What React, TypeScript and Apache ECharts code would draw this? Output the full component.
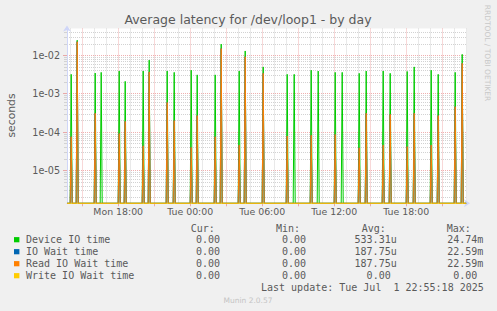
import React, { useEffect, useRef } from 'react';
import * as echarts from 'echarts';

// ---- data ----
const spikeTimes = [
  'Mon 14:05', 'Mon 14:35', 'Mon 16:05', 'Mon 16:35', 'Mon 18:05', 'Mon 18:35',
  'Mon 20:05', 'Mon 20:35', 'Mon 22:05', 'Mon 22:40', 'Tue 00:05', 'Tue 00:35',
  'Tue 02:05', 'Tue 02:35', 'Tue 04:05', 'Tue 04:35', 'Tue 06:05', 'Tue 08:05',
  'Tue 08:40', 'Tue 10:05', 'Tue 10:40', 'Tue 12:05', 'Tue 12:40', 'Tue 14:05',
  'Tue 14:40', 'Tue 16:05', 'Tue 16:40', 'Tue 18:05', 'Tue 18:40', 'Tue 20:05',
  'Tue 20:40', 'Tue 22:05', 'Tue 22:40',
];
const deviceIOTime = [
  3.2e-3, 2.474e-2, 3.45e-3, 3.6e-3, 3.9e-3, 2.1e-3,
  3.9e-3, 7.5e-3, 3.9e-3, 3.6e-3, 4.1e-3, 3.1e-3,
  3.1e-3, 1.96e-2, 3.9e-3, 1.3e-2, 5.0e-3, 3.2e-3,
  3.2e-3, 4.1e-3, 3.9e-3, 3.6e-3, 3.6e-3, 3.4e-3,
  3.9e-3, 3.9e-3, 3.4e-3, 3.8e-3, 5.0e-3, 4.1e-3,
  3.2e-3, 3.6e-3, 1.06e-2,
];
const ioWaitTime = [
  7.6e-5, 2.259e-2, 3.1e-4, 0, 9.2e-5, 1.9e-4,
  4.4e-5, 3.7e-3, 5.9e-4, 2.0e-4, 4.0e-5, 2.7e-4,
  7.6e-5, 1.5e-2, 4.6e-5, 9.2e-3, 3.4e-3, 7.9e-5,
  0, 8.3e-5, 0, 8.7e-5, 0, 3.9e-5,
  3.1e-4, 4.6e-5, 2.9e-4, 4.2e-5, 3.1e-4, 4.6e-5,
  2.7e-4, 4.6e-4, 6.2e-3,
];
const readIOWaitTime = [
  7.6e-5, 2.259e-2, 3.1e-4, 0, 9.2e-5, 1.9e-4,
  4.4e-5, 3.7e-3, 5.9e-4, 2.0e-4, 4.0e-5, 2.7e-4,
  7.6e-5, 1.5e-2, 4.6e-5, 9.2e-3, 3.4e-3, 7.9e-5,
  0, 8.3e-5, 0, 8.7e-5, 0, 3.9e-5,
  3.1e-4, 4.6e-5, 2.9e-4, 4.2e-5, 3.1e-4, 4.6e-5,
  2.7e-4, 4.6e-4, 6.2e-3,
];
const writeIOWaitTime = [
  0, 0, 0, 0, 0, 0, 0, 0, 0, 0, 0, 0, 0, 0, 0, 0, 0,
  0, 0, 0, 0, 0, 0, 0, 0, 0, 0, 0, 0, 0, 0, 0, 0,
];
const sampleStart = 'Mon 13:45';
const sampleEnd = 'Tue 23:00';
const sampleStepMin = 5;
const axisStart = 'Mon 13:44';
const axisEnd = 'Tue 23:04';
const yMinValue = 1.4e-6;
const yMaxValue = 0.05;

const xTickLabels = ['Mon 18:00', 'Tue 00:00', 'Tue 06:00', 'Tue 12:00', 'Tue 18:00'];
const yTickLabels = ['1e-05', '1e-04', '1e-03', '1e-02'];

const seriesNames = ['Device IO time', 'IO Wait time', 'Read IO Wait time', 'Write IO Wait time'];
const seriesColors = ['#00cc00', '#0066b3', '#ff8000', '#ffcc00'];
const curValues = ['0.00', '0.00', '0.00', '0.00'];
const minValues = ['0.00', '0.00', '0.00', '0.00'];
const avgValues = ['533.31u', '187.75u', '187.75u', '0.00'];
const maxValues = ['24.74m', '22.59m', '22.59m', '0.00'];

const titleText = 'Average latency for /dev/loop1 - by day';
const lastUpdate = 'Last update: Tue Jul \u00a01 22:55:18 2025';

// ---- helpers ----
const parseTime = (s: string) => {
  const [d, hm] = s.split(' ');
  const [h, m] = hm.split(':').map(Number);
  return (d === 'Tue' ? 1440 : 0) + h * 60 + m;
};
const pad = (n: number) => (n < 10 ? '0' + n : '' + n);
const fmtTime = (v: number) =>
  (v >= 1440 ? 'Tue' : 'Mon') + ' ' + pad(Math.floor((v % 1440) / 60)) + ':' + pad(Math.round(v % 60));

const LOG_MIN = Math.log10(yMinValue);
const LOG_MAX = Math.log10(yMaxValue);
const X_MIN = parseTime(axisStart);
const X_MAX = parseTime(axisEnd);

const spikeMinutes = spikeTimes.map(parseTime);
const buildSeries = (vals: number[]) => {
  const out: [number, number][] = [];
  for (let t = parseTime(sampleStart); t <= parseTime(sampleEnd); t += sampleStepMin) {
    const i = spikeMinutes.indexOf(t);
    const v = i >= 0 ? vals[i] : 0;
    out.push([t, Math.log10(Math.max(v, yMinValue))]);
  }
  return out;
};

const majorY = yTickLabels.map((l) => Math.log10(Number(l)));
const minorY: number[] = [];
for (let e = -6; e <= -2; e++) {
  for (let k = 2; k <= 9; k++) {
    const v = Math.log10(k * Math.pow(10, e));
    if (v > LOG_MIN && v < LOG_MAX - 1e-6) minorY.push(v);
  }
}
const majorX: number[] = [];
const minorX: number[] = [];
for (let t = Math.ceil(X_MIN / 60) * 60; t <= X_MAX; t += 60) {
  if (t % 180 === 0) majorX.push(t);
  else minorX.push(t);
}
const labelX = xTickLabels.map(parseTime);

const FONT = 'DejaVu Sans';
const MONO = 'DejaVu Sans Mono';
const TEXT = '#5a5a5a';
const AXIS_COL = '#cfd6f8';
const MGRID = 'rgba(222,79,79,0.45)';
const GRID = '#d2d2d2';

const txt = (x: number, y: number, text: string, o: any = {}) => ({
  type: 'text',
  x,
  y,
  rotation: o.rotation || 0,
  silent: true,
  style: {
    text,
    fill: o.fill || TEXT,
    fontSize: o.fontSize || 10,
    fontFamily: o.fontFamily || MONO,
    align: o.align || 'left',
    textAlign: o.align || 'left',
    verticalAlign: 'middle',
    textVerticalAlign: 'middle',
  },
});

const rowY = [239.7, 251.7, 263.7, 275.7];
const graphic: any[] = [
  txt(248, 19.5, titleText, { fontFamily: FONT, fontSize: 12.5, align: 'center' }),
  txt(11, 115.5, 'seconds', { fontFamily: FONT, fontSize: 10.8, align: 'center', rotation: Math.PI / 2 }),
  txt(487.5, 53, 'RRDTOOL / TOBI OETIKER', {
    fontFamily: FONT, fontSize: 7.5, align: 'center', rotation: -Math.PI / 2, fill: '#c8c8c8',
  }),
  txt(190.7, 228.3, 'Cur:'),
  txt(276, 228.3, 'Min:'),
  txt(361.7, 228.3, 'Avg:'),
  txt(446.7, 228.3, 'Max:'),
  txt(261, 287.3, lastUpdate),
  txt(248, 300, 'Munin 2.0.57', { fontFamily: FONT, fontSize: 7.5, align: 'center', fill: '#c4c4c4' }),
];
seriesNames.forEach((name, i) => {
  const y = rowY[i];
  graphic.push({
    type: 'rect',
    silent: true,
    shape: { x: 14, y: y - 2.6, width: 5.4, height: 5.2 },
    style: { fill: seriesColors[i] },
  });
  graphic.push(txt(26, y, name));
  graphic.push(txt(220, y, curValues[i], { align: 'right' }));
  graphic.push(txt(306, y, minValues[i], { align: 'right' }));
  const avgHasUnit = /[a-zA-Z]$/.test(avgValues[i]);
  graphic.push(txt(avgHasUnit ? 396.7 : 390.7, y, avgValues[i], { align: 'right' }));
  const maxHasUnit = /[a-zA-Z]$/.test(maxValues[i]);
  graphic.push(txt(maxHasUnit ? 483.3 : 477.3, y, maxValues[i], { align: 'right' }));
});

const seriesData = [deviceIOTime, ioWaitTime, readIOWaitTime, writeIOWaitTime];

const option: any = {
  animation: false,
  backgroundColor: '#f0f0f0',
  textStyle: { fontFamily: FONT },
  grid: {
    left: 67,
    top: 28.5,
    width: 400,
    height: 174.8,
    show: true,
    backgroundColor: '#ffffff',
    borderWidth: 0,
  },
  xAxis: [
    {
      type: 'value',
      min: X_MIN,
      max: X_MAX,
      position: 'bottom',
      axisLine: {
        show: true,
        lineStyle: { color: AXIS_COL, width: 1 },
        symbol: ['none', 'arrow'],
        symbolSize: [6, 6],
        symbolOffset: [0, 3],
      },
      axisTick: { show: true, length: 3, customValues: majorX, lineStyle: { color: MGRID } },
      axisLabel: {
        customValues: labelX,
        formatter: (v: number) => fmtTime(v),
        fontSize: 9.4,
        fontFamily: FONT,
        color: TEXT,
        margin: 4,
      },
      splitLine: { show: true, lineStyle: { color: MGRID, type: [1, 1], width: 1 } },
    },
    {
      type: 'value',
      min: X_MIN,
      max: X_MAX,
      position: 'bottom',
      axisLine: { show: false },
      axisTick: { show: false, customValues: minorX },
      axisLabel: { show: false },
      splitLine: { show: true, lineStyle: { color: GRID, type: [1, 1], width: 1 } },
    },
  ],
  yAxis: [
    {
      type: 'value',
      min: LOG_MIN,
      max: LOG_MAX,
      position: 'left',
      axisLine: {
        show: true,
        lineStyle: { color: AXIS_COL, width: 1 },
        symbol: ['none', 'arrow'],
        symbolSize: [6, 6],
        symbolOffset: [0, 3],
      },
      axisTick: { show: true, length: 4, customValues: majorY, lineStyle: { color: MGRID } },
      axisLabel: {
        customValues: majorY,
        formatter: (v: number) => yTickLabels[majorY.findIndex((m) => Math.abs(m - v) < 1e-6)] || '',
        fontSize: 9.6,
        fontFamily: FONT,
        color: TEXT,
        margin: 7,
      },
      splitLine: { show: true, lineStyle: { color: MGRID, type: [1, 1], width: 1 } },
    },
    {
      type: 'value',
      min: LOG_MIN,
      max: LOG_MAX,
      position: 'left',
      axisLine: { show: false },
      axisTick: { show: true, length: 3, customValues: minorY, lineStyle: { color: GRID } },
      axisLabel: { show: false },
      splitLine: { show: true, lineStyle: { color: GRID, type: [1, 1], width: 1 } },
    },
  ],
  series: seriesNames.map((name, i) => ({
    name,
    type: 'line',
    xAxisIndex: 0,
    yAxisIndex: 0,
    showSymbol: false,
    symbol: 'none',
    clip: false,
    lineStyle: { color: seriesColors[i], width: 1 },
    itemStyle: { color: seriesColors[i] },
    data: buildSeries(seriesData[i]),
    z: 2 + i,
  })),
  graphic,
};

export default function App() {
  const ref = useRef<HTMLDivElement>(null);
  useEffect(() => {
    document.body.style.margin = '0';
    const chart = echarts.init(ref.current as HTMLDivElement, null, { renderer: 'svg' });
    chart.setOption(option);
    return () => chart.dispose();
  }, []);
  return <div ref={ref} style={{ width: 497, height: 311 }} />;
}
